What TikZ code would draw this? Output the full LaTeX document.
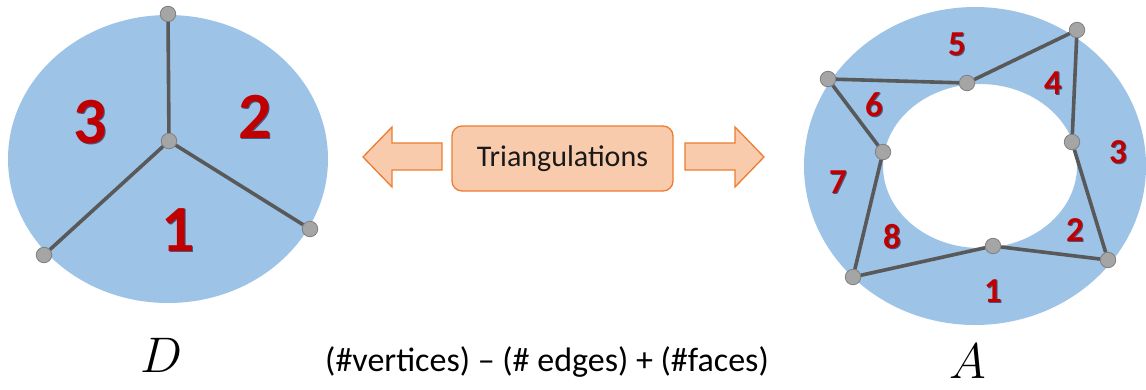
\documentclass[tikz,border=0pt]{standalone}
\usepackage{fix-cm}
\usepackage{fontspec}
\setmainfont{Carlito}
\definecolor{diskc}{HTML}{9DC3E6}
\definecolor{numc}{HTML}{C00000}
\definecolor{shadc}{HTML}{2F3F6A}
\definecolor{edgec}{HTML}{595959}
\definecolor{vtxc}{HTML}{A5A5A5}
\definecolor{vtxb}{HTML}{7F7F7F}
\definecolor{boxfill}{HTML}{F8CBAD}
\definecolor{boxdraw}{HTML}{ED7D31}
\begin{document}
\begin{tikzpicture}[x=1pt,y=-1pt,
  edge/.style={draw=edgec, line width=3.6pt},
  vtx/.style={circle, fill=vtxc, draw=vtxb, line width=0.8pt, minimum size=15.5pt, inner sep=0pt},
  bignum/.style={inner sep=0pt, font=\fontsize{66}{66}\selectfont\bfseries, text=numc},
  bigshad/.style={inner sep=0pt, font=\fontsize{66}{66}\selectfont\bfseries, text=shadc, opacity=0.8},
  smallnum/.style={inner sep=0pt, font=\fontsize{35}{35}\selectfont\bfseries, text=numc},
  smallshad/.style={inner sep=0pt, font=\fontsize{35}{35}\selectfont\bfseries, text=shadc, opacity=0.8},
  blockarrow/.style={fill=boxfill, draw=boxdraw, line width=1.3pt, line join=miter},
  tribox/.style={fill=boxfill, draw=boxdraw, line width=1.3pt, rounded corners=10pt,
    minimum width=221pt, minimum height=65pt, inner sep=0pt, text=black!90,
    font=\fontsize{30}{30}\selectfont},
  mathlbl/.style={inner sep=0pt, font=\fontsize{50}{50}\selectfont}
]
\useasboundingbox (0,0) rectangle (1146,389);

% ---------- disk D ----------
\fill[diskc] (168,159) ellipse [x radius=160, y radius=144];
\node[vtx] (dt) at (168,14) {};
\node[vtx] (dc) at (169,141) {};
\node[vtx] (dr) at (310,229) {};
\node[vtx] (dl) at (44,255) {};
\draw[edge] (dc) -- (dt);
\draw[edge] (dc) -- (dr);
\draw[edge] (dc) -- (dl);
\node[bigshad] at (91.3,123.3) {3};
\node[bignum] (d3) at (90,122) {3};
\node[bigshad] at (256.3,118.3) {2};
\node[bignum] (d2) at (255,117) {2};
\node[bigshad] at (179.3,231.3) {1};
\node[bignum] (d1) at (178,230) {1};
\node[mathlbl] (D) at (162,355) {$D$};

% ---------- annulus A ----------
\fill[diskc, even odd rule] (975,166) ellipse [x radius=171, y radius=159]
  (980,166) ellipse [x radius=97, y radius=82];
\node[vtx] (a1) at (828,79) {};
\node[vtx] (a2) at (967,83) {};
\node[vtx] (a3) at (1077,30) {};
\node[vtx] (a4) at (1072,142) {};
\node[vtx] (a5) at (1108,260) {};
\node[vtx] (a6) at (993,246) {};
\node[vtx] (a7) at (853,277) {};
\node[vtx] (a8) at (883,152) {};
\draw[edge] (a1) -- (a2);
\draw[edge] (a2) -- (a3);
\draw[edge] (a3) -- (a4);
\draw[edge] (a4) -- (a5);
\draw[edge] (a5) -- (a6);
\draw[edge] (a6) -- (a7);
\draw[edge] (a7) -- (a8);
\draw[edge] (a8) -- (a1);
\foreach \t/\x/\y in {5/957/44, 4/1053/83, 6/874/105, 3/1118/152, 7/838/182, 8/892/237, 2/1075/230, 1/993/291}{
  \node[smallshad] at (\x+0.9,\y+0.9) {\t};
  \node[smallnum] (n\t) at (\x,\y) {\t};
}
\node[mathlbl] (A) at (968,361) {$A$};

% ---------- middle ----------
\node[tribox] (tri) at (562.5,158.5) {Triangulations};
\filldraw[blockarrow] (442,143) -- (392,143) -- (392,127) -- (363,157) -- (392,187) -- (392,170) -- (442,170) -- cycle;
\filldraw[blockarrow] (685,143) -- (735,143) -- (735,127) -- (764,157) -- (735,187) -- (735,170) -- (685,170) -- cycle;
\node[inner sep=0pt, font=\fontsize{34}{34}\selectfont] (euler) at (547,362) {(\#vertices) – (\# edges) + (\#faces)};
\end{tikzpicture}
\end{document}
